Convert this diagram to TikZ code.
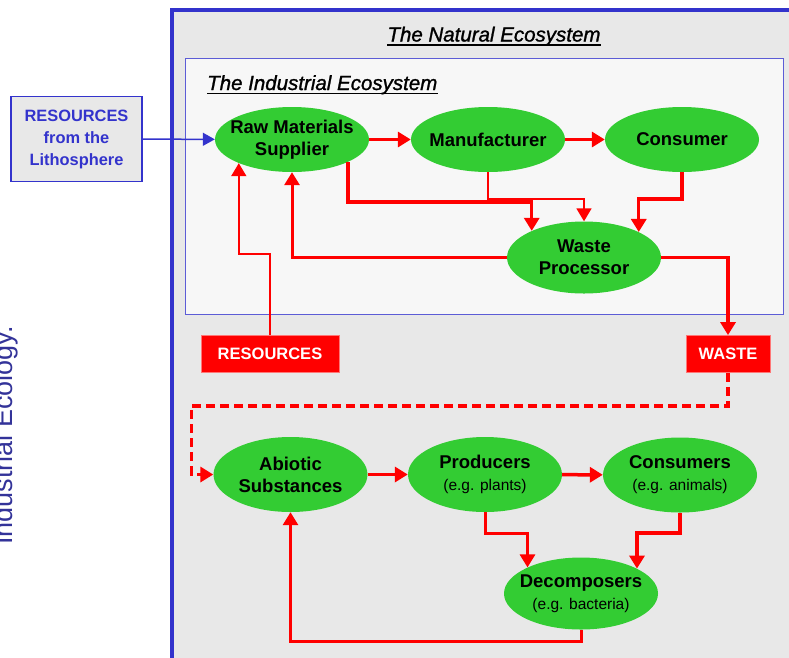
\documentclass[tikz,border=0pt]{standalone}
\usepackage{fontspec}
\setmainfont{Liberation Sans}
\newfontfamily\headfont[FakeBold=1.2]{Liberation Sans}
\usetikzlibrary{shapes.geometric, arrows.meta, positioning}
\definecolor{Eco_Green}{HTML}{33CC33}
\definecolor{Eco_Red}{HTML}{FF0000}
\definecolor{Eco_Pink}{HTML}{FF7777}
\definecolor{Eco_Blue}{HTML}{3333CC}
\definecolor{Eco_Ink}{HTML}{333399}
\definecolor{Nat_Gray}{HTML}{E8E8E8}
\definecolor{Ind_Gray}{HTML}{F7F7F7}
\newcommand{\egnote}[1]{{\fontsize{15.5}{20}\selectfont\mdseries #1}}

\begin{document}
\begin{tikzpicture}[x=1pt, y=-1pt,
    blob/.style={ellipse, fill=Eco_Green, inner xsep=-14pt, inner ysep=0pt, minimum width=154pt,
                 align=center, font=\fontsize{18.5}{22}\selectfont\bfseries},
    tag/.style={fill=Eco_Red, draw=Eco_Pink, line width=0.8pt, text=white, minimum height=37pt,
                font=\fontsize{16.5}{19}\selectfont\bfseries},
    flow/.style={draw=Eco_Red, line width=3.5pt, -{Triangle[width=15pt,length=13pt]}},
    thinflow/.style={flow, line width=1.8pt},
    title/.style={inner sep=0pt, font=\fontsize{20.5}{24}\selectfont\headfont\itshape},
    rule/.style={line width=1.8pt}]
    \useasboundingbox (0,0) rectangle (789,657);

    % Frames
    \draw[Eco_Blue, line width=3.5pt, fill=Nat_Gray] (172,10) rectangle (820,690);
    \draw[Eco_Blue!80, line width=1pt, fill=Ind_Gray] (185,58) rectangle (783,314);
    \node[title, anchor=base] (natTitle) at (494,41.5) {The Natural Ecosystem};
    \node[title, anchor=base west] (indTitle) at (207,90) {The Industrial Ecosystem};
    \draw[rule] ([yshift=-3.5pt]natTitle.base west) -- ([yshift=-3.5pt]natTitle.base east);
    \draw[rule] ([yshift=-3.5pt]indTitle.base west) -- ([yshift=-3.5pt]indTitle.base east);

    % Side caption
    \node[rotate=90, anchor=base west, inner sep=0pt, text=Eco_Ink,
          font=\fontsize{27}{30}\selectfont] (sideNote) at (12.5,545) {Industrial Ecology.};

    \node[draw=Eco_Blue, line width=1.5pt, fill=Nat_Gray, text=Eco_Blue, minimum width=131pt,
          minimum height=85pt, align=center, font=\fontsize{16.4}{22}\selectfont\bfseries]
          (litho) at (76.5,139) {RESOURCES\\from the\\Lithosphere};

    % Industrial loop
    \node[blob, minimum height=65pt] (raw) at (292,139.5) {Raw Materials\\Supplier};
    \node[blob, minimum height=65pt] (manu) at (488,139.5) {Manufacturer};
    \node[blob, minimum height=65pt] (cons) at (682,139.5) {Consumer};
    \node[blob, minimum height=72pt] (wproc) at (584,257.5) {Waste\\Processor};

    \node[tag, minimum width=138pt] (res) at (270,354) {RESOURCES};
    \node[tag, minimum width=84pt] (waste) at (728,354) {WASTE};

    % Natural loop
    \node[blob, minimum height=75pt] (abio) at (290.5,474.5) {Abiotic\\Substances};
    \node[blob, minimum height=75pt] (prod) at (485,474.5) {Producers\\\egnote{(e.g. plants)}};
    \node[blob, minimum height=75pt] (cnsm) at (680,475) {Consumers\\\egnote{(e.g. animals)}};
    \node[blob, minimum height=72pt] (decomp) at (581,593.5) {Decomposers\\\egnote{(e.g. bacteria)}};
    \coordinate (bendW) at (191.5,406);

    % Connectors
    \draw[Eco_Blue, line width=1.5pt, -{Triangle[width=13pt,length=12pt]}] (litho) -- (raw);
    \draw[flow] (raw) -- (manu);
    \draw[flow] (manu) -- (cons);
    \draw[flow] (raw.-22) -- ++(0,40) -| (wproc.153);
    \draw[thinflow] (manu.south) -- ++(0,27) -| (wproc.north);
    \draw[flow] (cons.south) -- ++(0,27) -| (wproc.25);
    \draw[flow, line width=3pt] (wproc.west) -| (raw.south);
    \draw[thinflow] (res.north) -- ++(0,-81) -| (raw.204);
    \draw[flow] (wproc.east) -| (waste.north);
    \draw[flow, dash pattern=on 9pt off 5pt] (waste.south) |- (bendW) |- (abio.west);

    \draw[flow] (abio) -- (prod);
    \draw[flow] (prod) -- (cnsm);
    \draw[flow, line width=3pt] (prod.south) -- ++(0,21) -| (decomp.154);
    \draw[flow] (cnsm.south) -- ++(0,20.5) -| (decomp.24);
    \draw[flow, line width=3pt] (decomp.south) -- ++(0,12) -| (abio.south);
\end{tikzpicture}
\end{document}
